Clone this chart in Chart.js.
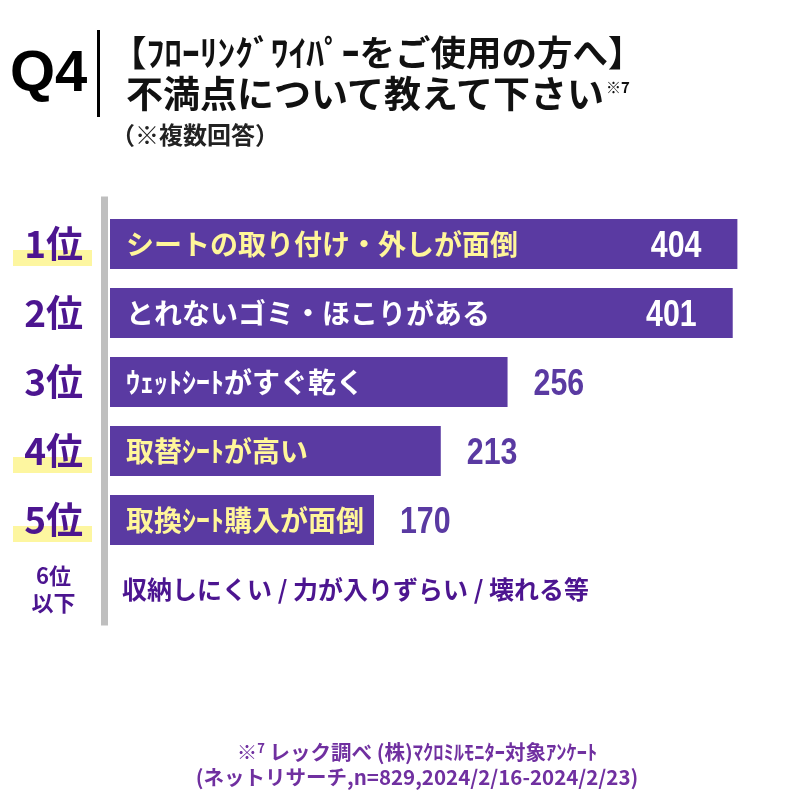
<!DOCTYPE html>
<html lang="ja">
<head>
<meta charset="utf-8">
<script src="https://cdn.jsdelivr.net/npm/chart.js@4.4.1/dist/chart.umd.min.js"></script>
<style>
  body { margin: 0; background: #fff; }
  #wrap { position: relative; width: 785px; height: 800px; overflow: hidden;
          font-family: "Noto Sans CJK JP", sans-serif; font-weight: 700; }
  #chartBox { position: absolute; left: 0; top: 0; width: 785px; height: 800px; }
  .abs { position: absolute; white-space: nowrap; }
  .q4 { left: 10px; top: 42px; font: 700 58px/58px "Liberation Sans", Arial, sans-serif; color: #000; }
  .bar { left: 97px; top: 30px; width: 3px; height: 87px; background: #000; }
  .t1 { left: 111px; top: 33px; font-size: 35.5px; line-height: 35px; color: #111; }
  .t2 { left: 126px; top: 74px; font-size: 37px; line-height: 37px; color: #111; }
  .t2 .sup { font-size: 15px; position: relative; top: -15px; margin-left: 2px; }
  .t3 { left: 111px; top: 122px; font-size: 24px; line-height: 24px; color: #222; }
  .foot { left: 0; width: 834px; text-align: center; font-size: 20.5px; line-height: 20px; color: #7030a0; }
  .foot .sup { font-size: 13px; position: relative; top: -7px; }
</style>
</head>
<body>
<div id="wrap">
  <div id="chartBox"><canvas id="rankChart"></canvas></div>
  <div class="abs q4">Q4</div>
  <div class="abs bar"></div>
  <div class="abs t1">【ﾌﾛｰﾘﾝｸﾞﾜｲﾊﾟｰをご使用の方へ】</div>
  <div class="abs t2">不満点について教えて下さい<span class="sup">※7</span></div>
  <div class="abs t3">（※複数回答）</div>
  <div class="abs foot" style="top:741px">※<span class="sup">7</span> レック調べ (株)ﾏｸﾛﾐﾙﾓﾆﾀｰ対象ｱﾝｹｰﾄ</div>
  <div class="abs foot" style="top:766px">(ネットリサーチ,n=829,2024/2/16-2024/2/23)</div>
</div>
<script>
// ranking data
const ranks = ["1位", "2位", "3位", "4位", "5位", ["6位", "以下"]];
const reasons = [
    "シートの取り付け・外しが面倒",
    "とれないゴミ・ほこりがある",
    "ｳｪｯﾄｼｰﾄがすぐ乾く",
    "取替ｼｰﾄが高い",
    "取換ｼｰﾄ購入が面倒",
    "収納しにくい / 力が入りずらい / 壊れる等"
];
const counts = [404, 401, 256, 213, 170, null];

const JP = '"Noto Sans CJK JP", sans-serif';
const PURPLE = "#4c1590";
const BAR = "#5a3aa2";
const YELLOW_TEXT = "#fff69a";
const markedRanks = [0, 3, 4];     // ranks with the yellow underline
const yellowLabels = [0, 3, 4];    // bar captions drawn in yellow

const decor = {
    id: "decor",
    beforeDraw(chart) {
        const ctx = chart.ctx;
        const y = chart.scales.y;
        const left = chart.chartArea.left;
        ctx.save();
        // yellow marker under some rank labels
        ctx.fillStyle = "#fdf6a0";
        markedRanks.forEach(i => {
            const cy = y.getPixelForValue(i);
            ctx.fillRect(13, cy + 6, 79, 16);
        });
        // grey vertical axis
        ctx.fillStyle = "#bfbfbf";
        ctx.fillRect(left - 9, y.top - 13, 7, y.bottom - y.top + 15);
        ctx.restore();
    },
    afterDatasetsDraw(chart) {
        const ctx = chart.ctx;
        const meta = chart.getDatasetMeta(0);
        const left = chart.chartArea.left;
        const y = chart.scales.y;
        ctx.save();
        ctx.textBaseline = "middle";
        reasons.forEach((txt, i) => {
            const cy = y.getPixelForValue(i);
            if (counts[i] == null) {
                ctx.font = "bold 25px " + JP;
                ctx.fillStyle = PURPLE;
                ctx.textAlign = "left";
                ctx.fillText(txt, left + 12, cy);
                return;
            }
            ctx.font = "bold 28px " + JP;
            ctx.fillStyle = yellowLabels.includes(i) ? YELLOW_TEXT : "#ffffff";
            ctx.textAlign = "left";
            ctx.fillText(txt, left + 16, cy);

            // value label, narrow bold digits
            const bar = meta.data[i];
            const inside = i < 2;
            ctx.save();
            ctx.font = 'bold 37px "Liberation Sans", Arial, sans-serif';
            ctx.fillStyle = inside ? "#ffffff" : BAR;
            ctx.textAlign = inside ? "right" : "left";
            ctx.translate(inside ? bar.x - 36 : bar.x + 26, cy + 3);
            ctx.scale(0.82, 1);
            ctx.fillText(String(counts[i]), 0, 0);
            ctx.restore();
        });
        ctx.restore();
    }
};

new Chart(document.getElementById("rankChart"), {
    type: "bar",
    data: {
        labels: ranks,
        datasets: [{
            data: counts,
            backgroundColor: BAR,
            borderWidth: 0,
            barPercentage: 0.725,
            categoryPercentage: 1
        }]
    },
    options: {
        indexAxis: "y",
        responsive: true,
        maintainAspectRatio: false,
        animation: false,
        layout: { padding: { top: 209.5, bottom: 176.5, left: 0, right: 15 } },
        plugins: { legend: { display: false }, tooltip: { enabled: false } },
        scales: {
            x: { display: false, min: 0, max: 425 },
            y: {
                grid: { display: false, drawTicks: false },
                border: { display: false },
                ticks: {
                    color: PURPLE,
                    crossAlign: "center",
                    padding: 27,
                    font: c => c.index === 5
                        ? { family: JP, size: 22, weight: "bold", lineHeight: 1.2 }
                        : { family: JP, size: 37, weight: "bold" }
                },
                afterFit: s => { s.width = 110; }
            }
        }
    },
    plugins: [decor]
});
</script>
</body>
</html>
